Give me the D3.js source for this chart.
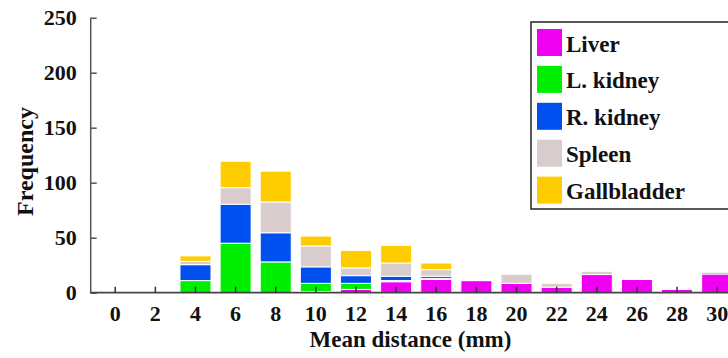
<!DOCTYPE html>
<html><head><meta charset="utf-8">
<script src="https://cdn.jsdelivr.net/npm/d3@7"></script>
<style>
html,body{margin:0;padding:0;background:#fff;overflow:hidden;}
svg{display:block;}
text{font-family:"Liberation Serif","Times New Roman",serif;font-weight:bold;fill:#111;}
</style></head>
<body>
<svg id="chart" width="728" height="358"></svg>
<script>
const categories = ["0","2","4","6","8","10","12","14","16","18","20","22","24","26","28","30"];
const seriesNames = ["Liver","L. kidney","R. kidney","Spleen","Gallbladder"];
const liver      = [0,0,0,0,0,1,3,10,12,11,8.5,5,16.5,12,3,17];
const lKidney    = [0,0,11,45,28,7.5,5.5,1,1,0,0,0,0,0,0,1.5];
const rKidney    = [0,0,14.5,35.5,26.5,15,7,4,2,0,0,0,0,0,0,0];
const spleen     = [0,0,3,15,28,19,7,12,6,1,8.5,3.5,3,0,0.5,0];
const gallbladder= [0,0,5,24,28,9,16,16,6,0,0.5,1,0,0,0,0];
const yTicks = [0,50,100,150,200,250];
const colors = ["#f000f0","#00ee00","#0050f0","#d9cccc","#ffcc00"];

const seriesValues = [liver,lKidney,rKidney,spleen,gallbladder];
const table = categories.map((c,i)=>{
  const row = {cat:c};
  seriesNames.forEach((s,j)=>row[s]=seriesValues[j][i]);
  return row;
});

const svg = d3.select("#chart");
const x = d3.scaleBand().domain(categories).range([90.6, 741.8]).padding(0.227);
const y = d3.scaleLinear().domain([0,250]).range([292.7, 17.7]);

const stack = d3.stack().keys(seriesNames)(table);

svg.append("g").selectAll("g").data(stack).join("g")
  .attr("fill",(d,i)=>colors[i])
  .selectAll("rect").data(d=>d).join("rect")
  .attr("x",d=>x(d.data.cat))
  .attr("width",x.bandwidth())
  .attr("y",d=>y(d[1]))
  .attr("height",d=>Math.max(0,y(d[0])-y(d[1])))
  .attr("stroke","#fff").attr("stroke-width",1)
  .style("display",d=>d[1]-d[0]>0?null:"none");

// Y axis
const yAxis = svg.append("g").attr("transform","translate(90.7,0)")
  .call(d3.axisLeft(y).tickValues(yTicks).tickSize(-6).tickPadding(14));
yAxis.attr("font-family",null).attr("font-size",null);
yAxis.select(".domain").attr("stroke","#555").attr("stroke-width",1.5).attr("d","M0,"+y(250)+"V"+y(0));
yAxis.selectAll(".tick line").attr("stroke","#555").attr("stroke-width",1.5);
yAxis.selectAll(".tick text").style("font-size","22px").attr("fill","#111");

// X axis
const xAxis = svg.append("g").attr("transform","translate(0,"+y(0)+")")
  .call(d3.axisBottom(x).tickSize(-6).tickPadding(13));
xAxis.attr("font-family",null).attr("font-size",null);
xAxis.select(".domain").attr("stroke","#444").attr("stroke-width",1.8).attr("d","M90,0H728");
xAxis.selectAll(".tick line").attr("stroke","#333").attr("stroke-width",1.5);
xAxis.selectAll(".tick text").style("font-size","22px").attr("fill","#111");

// Axis titles
svg.append("text").attr("x",410.5).attr("y",347).attr("text-anchor","middle")
  .style("font-size","23px").text("Mean distance (mm)");
svg.append("text").attr("transform","translate(33,161.5) rotate(-90)").attr("text-anchor","middle")
  .style("font-size","24px").text("Frequency");

// Legend
const lg = svg.append("g");
lg.append("rect").attr("x",531).attr("y",22).attr("width",210).attr("height",187)
  .attr("fill","#fff").attr("stroke","#222").attr("stroke-width",1.5);
seriesNames.forEach((s,i)=>{
  lg.append("rect").attr("x",537).attr("y",29+i*36.9).attr("width",25).attr("height",27)
    .attr("fill",colors[i]);
  lg.append("text").attr("x",566).attr("y",51.5+i*36.9).style("font-size","23px").text(s);
});
</script>
</body></html>
